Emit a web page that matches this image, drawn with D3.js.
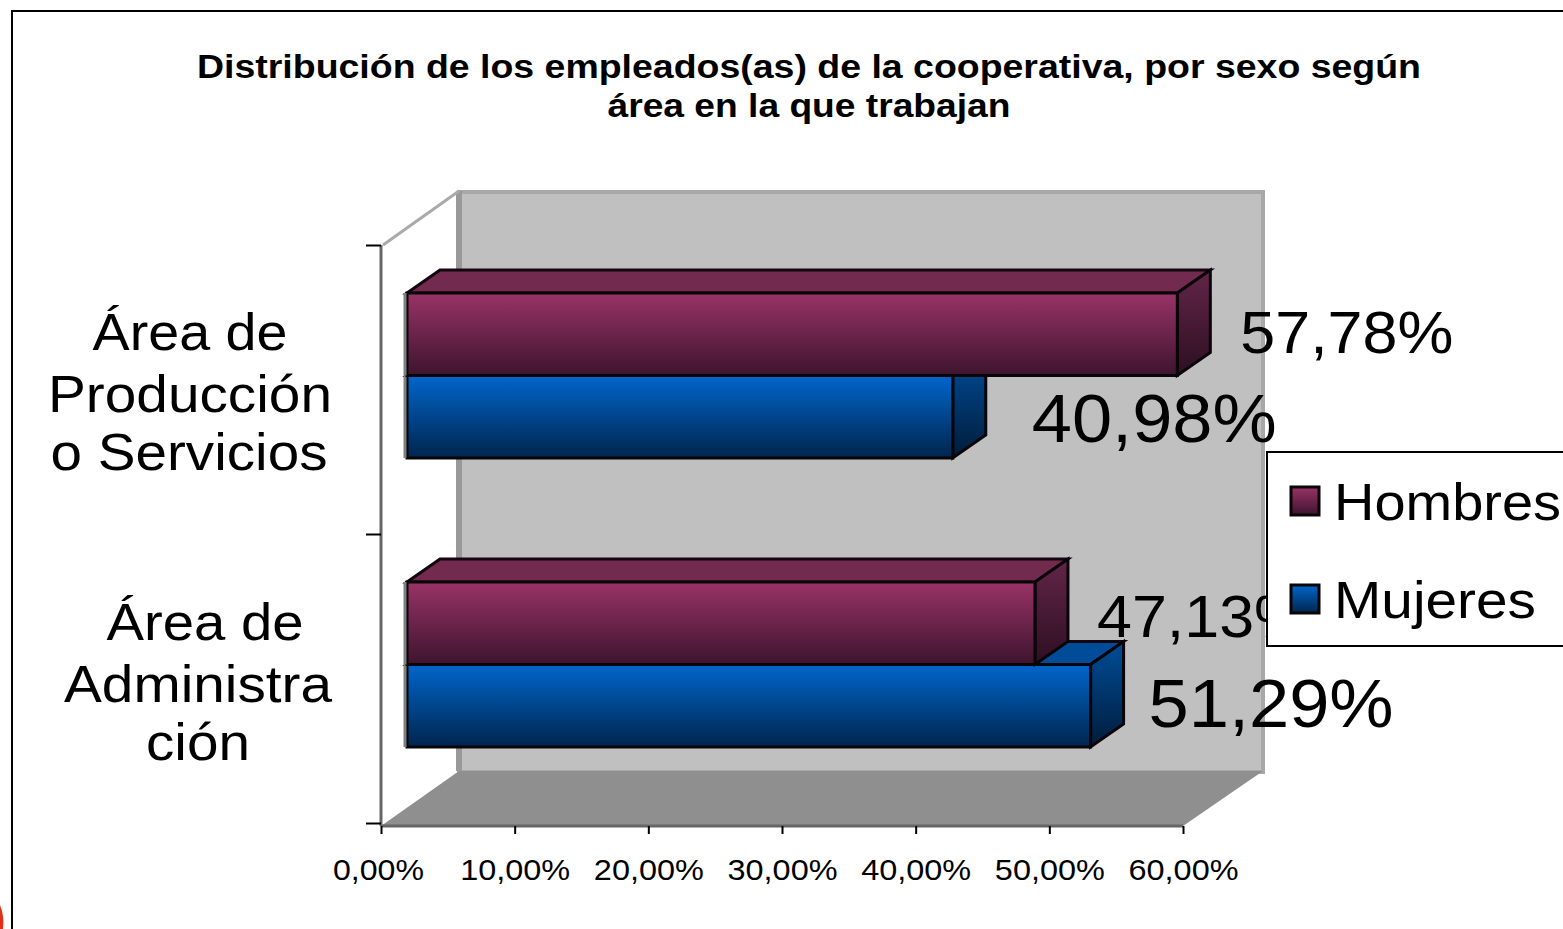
<!DOCTYPE html>
<html>
<head>
<meta charset="utf-8">
<script src="https://cdn.jsdelivr.net/npm/d3@7"></script>
<style>
	html, body { margin: 0; padding: 0; background: #fff; overflow: hidden; }
	text { font-family: "Liberation Sans", Arial, sans-serif; fill: #000; }
</style>
</head>
<body>
<div id="chart"></div>
<script>

// chart values

var categories = ["Área de Producción o Servicios", "Área de Administración"];
var seriesNames = ["Hombres", "Mujeres"];
var hombres = [57.78, 47.13];
var mujeres = [40.98, 51.29];
var xTicks = [0, 10, 20, 30, 40, 50, 60];
var titleLines = ["Distribución de los empleados(as) de la cooperativa, por sexo según", "área en la que trabajan"];
var categoryLines = [["Área de", "Producción", "o Servicios"], ["Área de", "Administra", "ción"]];

// set size of entire chart area

var svgWidth = 1563;
var svgHeight = 929;

var svg = d3.select("#chart")
	.append("svg")
	.attr("width", svgWidth)
	.attr("height", svgHeight)
	.style("display", "block");

// 3d depth of the plot box and of the bars

var wallDx = 78, wallDy = -54;
var barDx = 26;
var depthDx = 33, depthDy = -23;

// scales

var xScale = d3.scaleLinear().domain([0, 60]).range([381, 1183]);
var yScale = d3.scaleBand().domain(categories).range([245, 823]);
var ySeries = d3.scaleBand().domain(["Hombres", "Mujeres"]).range([48, 213]);
var yEdge = d3.scaleLinear().domain([0, 2]).range([245, 823]);

// gradients

var defs = svg.append("defs");

function addGradient(id, x2, y2, top, bottom) {
	var g = defs.append("linearGradient").attr("id", id)
		.attr("x1", 0).attr("y1", 0).attr("x2", x2).attr("y2", y2);
	g.append("stop").attr("offset", "0%").attr("stop-color", top);
	g.append("stop").attr("offset", "100%").attr("stop-color", bottom);
}

addGradient("frontHombres", 0, 1, "#993366", "#3d142e");
addGradient("frontMujeres", 0, 1, "#0066cc", "#00254d");
addGradient("sideHombres", 0, 1, "#632548", "#2d0f22");
addGradient("sideMujeres", 0, 1, "#004d99", "#001c3a");

var seriesColors = {
	Hombres: { front: "url(#frontHombres)", side: "url(#sideHombres)", top: "#732a4f" },
	Mujeres: { front: "url(#frontMujeres)", side: "url(#sideMujeres)", top: "#004c99" }
};

// outer frame and the scrap of red in the corner

svg.append("path")
	.attr("d", "M0,905 C3,912 4,920 3,929 L0,929 Z")
	.attr("fill", "#e0301a");

svg.append("path")
	.attr("d", "M12,929 L12,11 L1563,11")
	.attr("fill", "none")
	.attr("stroke", "#000")
	.attr("stroke-width", 2);

// title

svg.append("g").selectAll("text")
	.data(titleLines)
	.enter()
	.append("text")
	.attr("x", 809)
	.attr("y", (d, i) => 78 + i * 39)
	.attr("text-anchor", "middle")
	.attr("font-weight", "bold")
	.attr("font-size", 34)
	.attr("textLength", (d, i) => i === 0 ? 1224 : 403)
	.attr("lengthAdjust", "spacingAndGlyphs")
	.text(d => d);

// plot box: back wall, floor and left wall

var x0 = xScale(0), x1 = xScale(60);
var yTop = yEdge(0), yBottom = yEdge(2);

svg.append("rect")
	.attr("x", x0 + wallDx)
	.attr("y", yTop + wallDy + 1)
	.attr("width", x1 - x0 + 2)
	.attr("height", yBottom - yTop + 2)
	.attr("fill", "#c0c0c0")
	.attr("stroke", "#a8a8a8")
	.attr("stroke-width", 4);

svg.append("polygon")
	.attr("points", [[x0, yBottom + 3], [x0 + wallDx, yBottom + 2 + wallDy], [x1 + wallDx + 2, yBottom + 2 + wallDy], [x1, yBottom + 3]].join(" "))
	.attr("fill", "#8f8f8f");

// darker left edge of the wall, then the diagonal of the left wall

svg.append("line")
	.attr("x1", x0 + wallDx).attr("x2", x0 + wallDx)
	.attr("y1", yTop + wallDy).attr("y2", yBottom + 2 + wallDy)
	.attr("stroke", "#999")
	.attr("stroke-width", 6);

svg.append("line")
	.attr("x1", x0 + 2).attr("x2", x0 + wallDx)
	.attr("y1", yTop).attr("y2", yTop + wallDy)
	.attr("stroke", "#aaa")
	.attr("stroke-width", 3);

// axes

var bottomAxis = d3.axisBottom(xScale)
	.tickValues(xTicks)
	.tickSize(8)
	.tickPadding(25)
	.tickFormat(d => d3.format(".2f")(d).replace(".", ",") + "%");

var xAxis = svg.append("g")
	.attr("transform", "translate(0, 826)")
	.call(bottomAxis);

xAxis.select(".domain").attr("stroke", "#666").attr("stroke-width", 3).attr("d", `M${x0},0H${x1}`);
xAxis.selectAll(".tick line").attr("stroke", "#000").attr("stroke-width", 2);
xAxis.selectAll(".tick text")
	.attr("font-size", 30)
	.attr("dx", (d, i) => i === 0 ? -3 : 0)
	.attr("textLength", (d, i) => i === 0 ? 91 : 110)
	.attr("lengthAdjust", "spacingAndGlyphs");

var leftAxis = d3.axisLeft(yEdge)
	.tickValues([0, 1, 2])
	.tickSize(15)
	.tickFormat("");

var yAxis = svg.append("g")
	.attr("transform", `translate(${x0}, 0)`)
	.call(leftAxis);

yAxis.select(".domain").attr("stroke", "#666").attr("stroke-width", 3).attr("d", `M0,${yTop}V${yBottom + 3}`);
yAxis.selectAll(".tick line").attr("stroke", "#000").attr("stroke-width", 2);

// bars, one entry per bar. mujeres first so hombres sits over it

var barData = [];
categories.forEach(function(c, i) {
	barData.push({ category: c, series: "Mujeres", value: mujeres[i] });
	barData.push({ category: c, series: "Hombres", value: hombres[i] });
});

var bars = svg.append("g").selectAll("g")
	.data(barData)
	.enter()
	.append("g");

function barBox(d) {
	return {
		left: xScale(0) + barDx,
		right: xScale(d.value) + barDx - 2,
		top: yScale(d.category) + ySeries(d.series),
		bottom: yScale(d.category) + ySeries(d.series) + ySeries.bandwidth()
	};
}

bars.append("polygon")
	.attr("points", function(d) {
		var b = barBox(d);
		return [[b.left, b.top], [b.left + depthDx, b.top + depthDy], [b.right + depthDx, b.top + depthDy], [b.right, b.top]].join(" ");
	})
	.attr("fill", d => seriesColors[d.series].top)
	.attr("stroke", "#14060f")
	.attr("stroke-width", 3);

bars.append("polygon")
	.attr("points", function(d) {
		var b = barBox(d);
		return [[b.right, b.top], [b.right + depthDx, b.top + depthDy], [b.right + depthDx, b.bottom + depthDy], [b.right, b.bottom]].join(" ");
	})
	.attr("fill", d => seriesColors[d.series].side)
	.attr("stroke", "#0a0509")
	.attr("stroke-width", 3);

bars.append("rect")
	.attr("x", d => barBox(d).left)
	.attr("y", d => barBox(d).top)
	.attr("width", d => barBox(d).right - barBox(d).left)
	.attr("height", d => barBox(d).bottom - barBox(d).top)
	.attr("fill", d => seriesColors[d.series].front)
	.attr("stroke", "#0a0509")
	.attr("stroke-width", 3);

// grey edge left of the bars

bars.append("line")
	.attr("x1", d => barBox(d).left - 2).attr("x2", d => barBox(d).left - 2)
	.attr("y1", d => barBox(d).top).attr("y2", d => barBox(d).bottom)
	.attr("stroke", "#808080")
	.attr("stroke-width", 3);

// value labels. each one has its own size in the original

var labelStyle = {
	"Hombres0": { gap: 63, base: 353, size: 60, width: 213 },
	"Mujeres0": { gap: 79, base: 442, size: 68, width: 245 },
	"Hombres1": { gap: 62, base: 637, size: 60, width: 213 },
	"Mujeres1": { gap: 58, base: 727, size: 68, width: 245 }
};

svg.append("g").selectAll("text")
	.data(barData)
	.enter()
	.append("text")
	.each(function(d) {
		var st = labelStyle[d.series + categories.indexOf(d.category)];
		d3.select(this)
			.attr("x", barBox(d).right + st.gap)
			.attr("y", st.base)
			.attr("font-size", st.size)
			.attr("textLength", st.width)
			.attr("lengthAdjust", "spacingAndGlyphs");
	})
	.text(d => d.value.toFixed(2).replace(".", ",") + "%");

// category labels

var labelRows = [
	{ row: 0, base: 350, center: 190, width: 195 },
	{ row: 1, base: 412, center: 190, width: 284 },
	{ row: 2, base: 470, center: 189, width: 277 }
];
var labelRows2 = [
	{ row: 0, base: 640, center: 205, width: 197 },
	{ row: 1, base: 702, center: 198, width: 268 },
	{ row: 2, base: 760, center: 198, width: 104 }
];

[labelRows, labelRows2].forEach(function(rows, i) {
	svg.append("g").selectAll("text")
		.data(rows)
		.enter()
		.append("text")
		.attr("x", d => d.center)
		.attr("y", d => d.base)
		.attr("text-anchor", "middle")
		.attr("font-size", 52)
		.attr("textLength", d => d.width)
		.attr("lengthAdjust", "spacingAndGlyphs")
		.text(d => categoryLines[i][d.row]);
});

// legend goes last, it covers part of the 47,13% label

var legend = svg.append("g");

legend.append("rect")
	.attr("x", 1267)
	.attr("y", 452)
	.attr("width", 310)
	.attr("height", 194)
	.attr("fill", "#fff")
	.attr("stroke", "#000")
	.attr("stroke-width", 2);

var legendItems = legend.selectAll("g")
	.data(seriesNames)
	.enter()
	.append("g")
	.attr("transform", (d, i) => `translate(0, ${i * 98})`);

legendItems.append("rect")
	.attr("x", 1291)
	.attr("y", 487)
	.attr("width", 28)
	.attr("height", 28)
	.attr("fill", d => seriesColors[d].front)
	.attr("stroke", "#0a0509")
	.attr("stroke-width", 3);

legendItems.append("text")
	.attr("x", 1334)
	.attr("y", 520)
	.attr("font-size", 52)
	.attr("textLength", (d, i) => i === 0 ? 227 : 202)
	.attr("lengthAdjust", "spacingAndGlyphs")
	.text(d => d);

</script>
</body>
</html>
